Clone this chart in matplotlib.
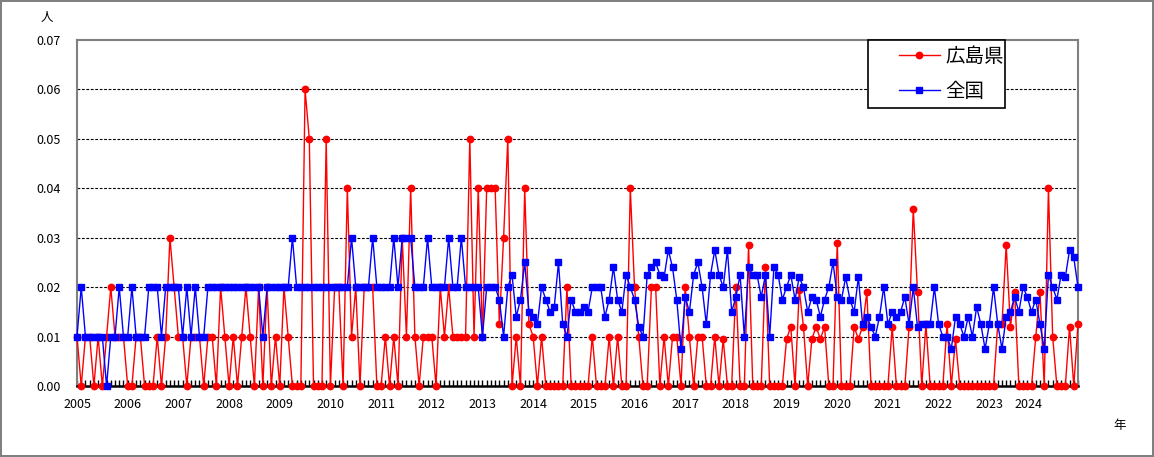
import matplotlib.pyplot as plt
import matplotlib.transforms as mtransforms
from matplotlib.patches import Rectangle
import numpy as np

plt.rcParams['font.family'] = ['Noto Sans CJK JP', 'DejaVu Sans']

# monthly values, 2005-01 .. 2024-10
hiroshima = [
    0.01, 0, 0.01, 0.01, 0, 0.01, 0, 0.01, 0.02, 0.01, 0.01, 0.01,
    0, 0, 0.01, 0.01, 0, 0, 0, 0.01, 0, 0.01, 0.03, 0.02,
    0.01, 0.01, 0, 0.01, 0.01, 0.01, 0, 0.01, 0.01, 0, 0.02, 0.01,
    0, 0.01, 0, 0.01, 0.02, 0.01, 0, 0.02, 0, 0.02, 0, 0.01,
    0, 0.02, 0.01, 0, 0, 0, 0.06, 0.05, 0, 0, 0, 0.05,
    0, 0.02, 0.02, 0, 0.04, 0.01, 0.02, 0, 0.02, 0.02, 0.02, 0,
    0, 0.01, 0, 0.01, 0, 0.03, 0.01, 0.04, 0.01, 0, 0.01, 0.01,
    0.01, 0, 0.02, 0.01, 0.02, 0.01, 0.01, 0.01, 0.01, 0.05, 0.01, 0.04,
    0.01, 0.04, 0.04, 0.04, 0.0125, 0.03, 0.05, 0, 0.01, 0, 0.04, 0.0125,
    0.01, 0, 0.01, 0, 0, 0, 0, 0, 0.02, 0, 0, 0,
    0, 0, 0.01, 0, 0, 0, 0.01, 0, 0.01, 0, 0, 0.04,
    0.02, 0.01, 0, 0, 0.02, 0.02, 0, 0.01, 0, 0.01, 0.01, 0,
    0.02, 0.01, 0, 0.01, 0.01, 0, 0, 0.01, 0, 0.0095, 0, 0,
    0.02, 0, 0, 0.0285, 0, 0, 0, 0.024, 0, 0, 0, 0,
    0.0095, 0.012, 0, 0.0195, 0.012, 0, 0.0095, 0.012, 0.0095, 0.012, 0, 0,
    0.029, 0, 0, 0, 0.012, 0.0095, 0.012, 0.019, 0, 0, 0, 0,
    0, 0.012, 0, 0, 0, 0.012, 0.0358, 0.019, 0, 0.0125, 0, 0,
    0, 0, 0.0125, 0, 0.0095, 0, 0, 0, 0, 0, 0, 0,
    0, 0, 0.0125, 0.0125, 0.0285, 0.012, 0.019, 0, 0, 0, 0, 0.01,
    0.019, 0, 0.04, 0.01, 0, 0, 0, 0.012, 0, 0.0125,
]

zenkoku = [
    0.01, 0.02, 0.01, 0.01, 0.01, 0.01, 0.01, 0, 0.01, 0.01, 0.02, 0.01,
    0.01, 0.02, 0.01, 0.01, 0.01, 0.02, 0.02, 0.02, 0.01, 0.02, 0.02, 0.02,
    0.02, 0.01, 0.02, 0.01, 0.02, 0.01, 0.01, 0.02, 0.02, 0.02, 0.02, 0.02,
    0.02, 0.02, 0.02, 0.02, 0.02, 0.02, 0.02, 0.02, 0.01, 0.02, 0.02, 0.02,
    0.02, 0.02, 0.02, 0.03, 0.02, 0.02, 0.02, 0.02, 0.02, 0.02, 0.02, 0.02,
    0.02, 0.02, 0.02, 0.02, 0.02, 0.03, 0.02, 0.02, 0.02, 0.02, 0.03, 0.02,
    0.02, 0.02, 0.02, 0.03, 0.02, 0.03, 0.03, 0.03, 0.02, 0.02, 0.02, 0.03,
    0.02, 0.02, 0.02, 0.02, 0.03, 0.02, 0.02, 0.03, 0.02, 0.02, 0.02, 0.02,
    0.01, 0.02, 0.02, 0.02, 0.0175, 0.01, 0.02, 0.0225, 0.014, 0.0175, 0.025, 0.015,
    0.014, 0.0125, 0.02, 0.0175, 0.015, 0.016, 0.025, 0.0125, 0.01, 0.0175, 0.015, 0.015,
    0.016, 0.015, 0.02, 0.02, 0.02, 0.014, 0.0175, 0.024, 0.0175, 0.015, 0.0225, 0.02,
    0.0175, 0.012, 0.01, 0.0225, 0.024, 0.025, 0.0225, 0.022, 0.0275, 0.024, 0.0175, 0.0075,
    0.018, 0.015, 0.0225, 0.025, 0.02, 0.0125, 0.0225, 0.0275, 0.0225, 0.02, 0.0275, 0.015,
    0.018, 0.0225, 0.01, 0.024, 0.0225, 0.0225, 0.018, 0.0225, 0.01, 0.024, 0.0225, 0.0175,
    0.02, 0.0225, 0.0175, 0.022, 0.02, 0.015, 0.018, 0.0175, 0.014, 0.0175, 0.02, 0.025,
    0.018, 0.0175, 0.022, 0.0175, 0.015, 0.022, 0.0125, 0.014, 0.012, 0.01, 0.014, 0.02,
    0.0125, 0.015, 0.014, 0.015, 0.018, 0.0125, 0.02, 0.012, 0.0125, 0.0125, 0.0125, 0.02,
    0.0125, 0.01, 0.01, 0.0075, 0.014, 0.0125, 0.01, 0.014, 0.01, 0.016, 0.0125, 0.0075,
    0.0125, 0.02, 0.0125, 0.0075, 0.014, 0.015, 0.018, 0.015, 0.02, 0.018, 0.015, 0.0175,
    0.0125, 0.0075, 0.0225, 0.02, 0.0175, 0.0225, 0.022, 0.0275, 0.026, 0.02,
]

years = list(range(2005, 2025))
yticks = [0.00, 0.01, 0.02, 0.03, 0.04, 0.05, 0.06, 0.07]

x = np.arange(len(hiroshima))
W, H = 1154, 457

fig = plt.figure(figsize=(W / 100, H / 100), dpi=100)
fig.patch.set_edgecolor('#808080')
fig.patch.set_linewidth(1.5)
ax = fig.add_axes([77 / W, 1 - 386 / H, 1001 / W, 346 / H])

ax.plot(x, hiroshima, color='#ff0000', lw=1, marker='o', ms=4.6,
        mec='#ff0000', mfc='#ff0000', label='広島県', clip_on=False, zorder=3)
ax.plot(x, zenkoku, color='#0000ff', lw=1, marker='s', ms=5,
        mec='#0000ff', mfc='#0000ff', label='全国', clip_on=False, zorder=4)

ax.set_xlim(0, len(x) - 1)
ax.set_ylim(0, 0.07)
ax.set_yticks(yticks, [f'{v:.2f}' for v in yticks], fontsize=9)
ax.set_xticks([12 * i for i in range(len(years))], [str(y) for y in years], fontsize=9)
ax.set_xticks(x, minor=True)
ax.tick_params(axis='x', which='both', direction='in', length=4, width=1, color='black', pad=9)
ax.tick_params(axis='y', length=0, pad=12)

# last year label sits a bit to the left in the original
last = ax.get_xticklabels()[-1]
last.set_transform(last.get_transform() + mtransforms.ScaledTranslation(-12 / 100, 0, fig.dpi_scale_trans))

for v in yticks[1:-1]:
    ax.axhline(v, color='black', lw=0.8, ls=(0, (2.5, 1.5)), zorder=1)

for side in ['left', 'top', 'right']:
    ax.spines[side].set_color('#808080')
    ax.spines[side].set_linewidth(1.5)
ax.spines['bottom'].set_color('black')
ax.spines['bottom'].set_linewidth(1.8)

# legend: box drawn separately, entries placed inside it
fig.patches.append(Rectangle((868 / W, 1 - 108 / H), 137 / W, 68 / H, transform=fig.transFigure,
                             fill=True, facecolor='white', edgecolor='black', lw=1.2, zorder=5))
handles, labels = ax.get_legend_handles_labels()
leg = fig.legend(handles, labels, loc='upper left', bbox_to_anchor=(899 / W, 1 - 46 / H),
                 fontsize=14, frameon=False, handlelength=2.1, borderpad=0,
                 labelspacing=0.7, borderaxespad=0, handletextpad=0.3)
leg.set_zorder(6)

fig.text(47 / W, 1 - 18 / H, '人', fontsize=9, ha='center', va='center')
fig.text(1120 / W, 1 - 425 / H, '年', fontsize=9, ha='center', va='center')

fig.savefig('out.png', dpi=100)
